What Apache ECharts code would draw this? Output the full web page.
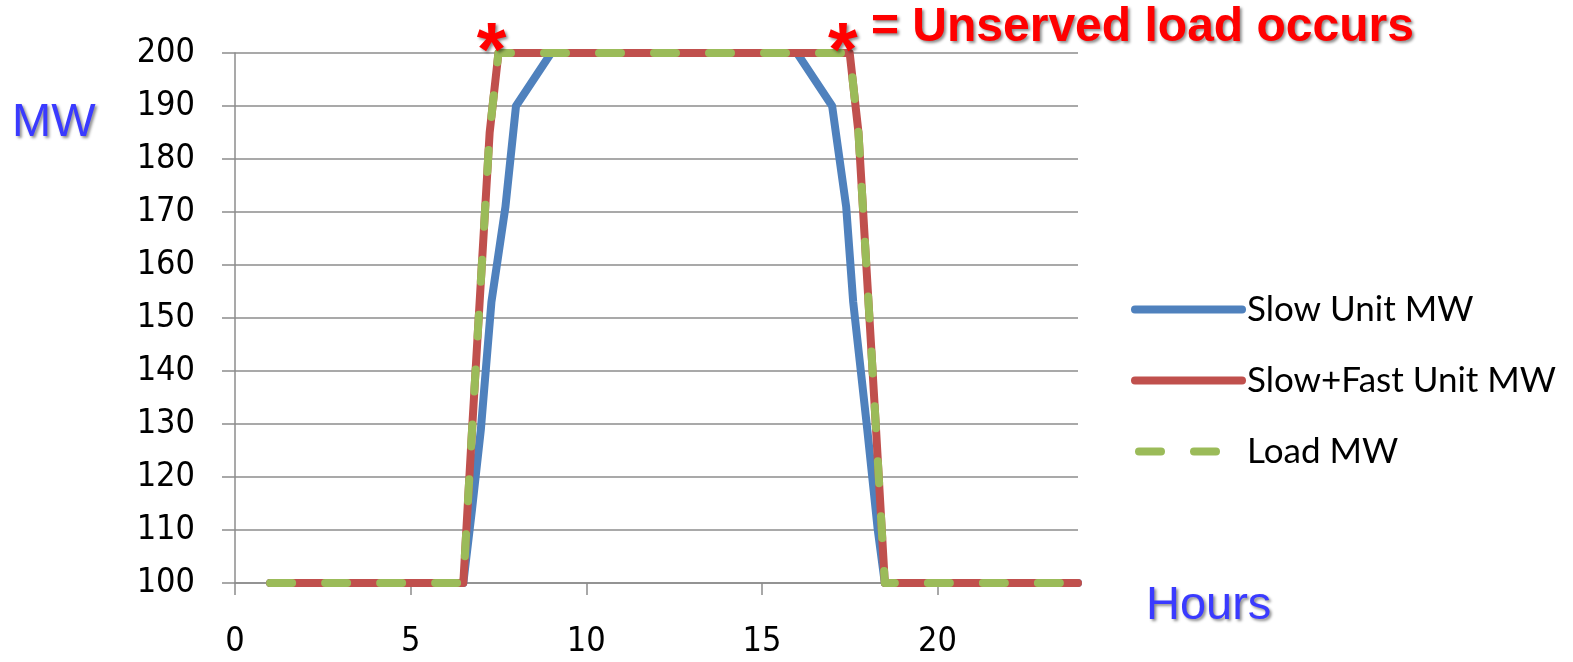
<!DOCTYPE html>
<html>
<head>
<meta charset="utf-8">
<script src="https://cdn.jsdelivr.net/npm/echarts@6/dist/echarts.min.js"></script>
<style>
  html, body { margin: 0; padding: 0; background: #fff; }
  #chart { width: 1573px; height: 662px; }
</style>
</head>
<body>
<div id="chart"></div>
<script>
// Hour of day for each sample, and MW output / demand at that hour
const slowHours = [1, 2, 3, 4, 5, 6, 6.5, 6.75, 7, 7.3, 7.7, 8, 9, 10, 11, 12, 13, 14, 15, 16,
                   17, 17.4, 17.6, 18, 18.3, 18.5, 19, 20, 21, 22, 23, 24];
const slowMW    = [100, 100, 100, 100, 100, 100, 100, 114, 129, 153, 171, 190, 200, 200, 200, 200, 200, 200, 200, 200,
                   190, 171, 153, 129, 110, 100, 100, 100, 100, 100, 100, 100];

const fastHours = [1, 2, 3, 4, 5, 6, 6.5, 6.75, 7, 7.25, 7.5, 8, 9, 10, 11, 12, 13, 14, 15, 16, 17,
                   17.5, 17.75, 18, 18.25, 18.5, 19, 20, 21, 22, 23, 24];
const slowFastMW = [100, 100, 100, 100, 100, 100, 100, 129, 157, 185, 200, 200, 200, 200, 200, 200, 200, 200, 200, 200, 200,
                    200, 185, 157, 129, 100, 100, 100, 100, 100, 100, 100];

const loadHours = [1, 2, 3, 4, 5, 6, 6.5, 6.75, 7, 7.25, 7.5, 8, 9, 10, 11, 12, 13, 14, 15, 16, 17,
                   17.5, 17.75, 18, 18.25, 18.5, 19, 20, 21, 22, 23, 24];
const loadMW    = [100, 100, 100, 100, 100, 100, 100, 129, 157, 185, 200, 200, 200, 200, 200, 200, 200, 200, 200, 200, 200,
                   200, 185, 157, 129, 100, 100, 100, 100, 100, 100, 100];

// Hours at which unserved load begins / ends (marked with an asterisk)
const unservedHours = [7.5, 17.5];
const unservedMW = [200, 200];

const seriesNames = ['Slow Unit MW', 'Slow+Fast Unit MW', 'Load MW'];
const xTicks = [0, 5, 10, 15, 20];
const yMin = 100, yMax = 200, yStep = 10;

const pairs = (xs, ys) => xs.map((x, i) => [x, ys[i]]);

const chart = echarts.init(document.getElementById('chart'), null, { renderer: 'canvas' });

const axisGray = '#8c8c8c';
const labelFont = "'DejaVu Sans Condensed', 'DejaVu Sans', sans-serif";
const shadow = { textShadowColor: 'rgba(0,0,0,0.45)', textShadowBlur: 3, textShadowOffsetX: 2, textShadowOffsetY: 2 };
const colors = ['#4f81bd', '#c0504d', '#9bbb59'];
const loadDash = [22, 33];

chart.setOption({
  animation: false,
  backgroundColor: '#fff',
  grid: { left: 235, right: 495, top: 53, bottom: 79, containLabel: false },
  xAxis: {
    type: 'value', min: 0, max: 24, interval: 5,
    axisLine: { lineStyle: { color: axisGray, width: 1.5 } },
    axisTick: { show: true, length: 12, customValues: xTicks, lineStyle: { color: axisGray, width: 1.5 } },
    axisLabel: { customValues: xTicks, margin: 42, fontSize: 34, color: '#000', fontFamily: labelFont },
    splitLine: { show: false }
  },
  yAxis: {
    type: 'value', min: yMin, max: yMax, interval: yStep,
    axisLine: { show: true, lineStyle: { color: axisGray, width: 1.5 } },
    axisTick: { show: true, length: 13, lineStyle: { color: axisGray, width: 1.5 } },
    axisLabel: { margin: 40, fontSize: 34, color: '#000', fontFamily: labelFont },
    splitLine: { show: true, lineStyle: { color: axisGray, width: 1.5 } }
  },
  legend: {
    orient: 'vertical', left: 1126, top: 285,
    itemWidth: 107, itemHeight: 8, itemGap: 32,
    data: seriesNames.map((name, i) => ({
      name: name,
      itemStyle: { color: 'transparent', borderWidth: 0, opacity: 0 },
      lineStyle: { color: colors[i], width: 8, cap: 'round', type: i === 2 ? loadDash : 'solid', dashOffset: i === 2 ? -4 : 0 }
    })),
    textStyle: { fontSize: 35, fontFamily: 'Lato, sans-serif', color: '#000', lineHeight: 39, padding: 0 }
  },
  series: [
    {
      name: seriesNames[0], type: 'line', symbol: 'none', z: 2,
      data: pairs(slowHours, slowMW),
      lineStyle: { color: colors[0], width: 8, cap: 'round', join: 'round' },
      itemStyle: { color: colors[0] }
    },
    {
      name: seriesNames[1], type: 'line', symbol: 'none', z: 3,
      data: pairs(fastHours, slowFastMW),
      lineStyle: { color: colors[1], width: 8, cap: 'round', join: 'round' },
      itemStyle: { color: colors[1] }
    },
    {
      name: seriesNames[2], type: 'line', symbol: 'none', z: 4,
      data: pairs(loadHours, loadMW),
      lineStyle: { color: colors[2], width: 8, type: loadDash, cap: 'round', join: 'round' },
      itemStyle: { color: colors[2] }
    }
  ]
});

// Axis titles, the note and the asterisks at the unserved-load points
const graphics = [
  { type: 'text', left: 12, top: 100, z: 10,
    style: Object.assign({ text: 'MW', fontSize: 47, fontFamily: 'Liberation Sans, Arial, sans-serif', fill: '#3a3aff' }, shadow) },
  { type: 'text', left: 1146, top: 583, z: 10,
    style: Object.assign({ text: 'Hours', fontSize: 47, fontFamily: 'Liberation Sans, Arial, sans-serif', fill: '#3a3aff' }, shadow) },
  { type: 'text', left: 871, top: 4, z: 10,
    style: Object.assign({ text: '= Unserved load occurs', fontSize: 48, fontWeight: 'bold', fontFamily: 'Liberation Sans, Arial, sans-serif', fill: '#ff0000' }, shadow) }
];
unservedHours.forEach((h, i) => {
  const p = chart.convertToPixel({ gridIndex: 0 }, [h, unservedMW[i]]);
  graphics.push({
    type: 'text', x: p[0] - 7, y: p[1] + 1, z: 10,
    style: Object.assign({ text: '*', fontSize: 76, fontWeight: 'bold', fontFamily: 'Liberation Sans, Arial, sans-serif',
      fill: '#ff0000', align: 'center', verticalAlign: 'middle' }, shadow)
  });
});
chart.setOption({ graphic: graphics });
</script>
</body>
</html>
